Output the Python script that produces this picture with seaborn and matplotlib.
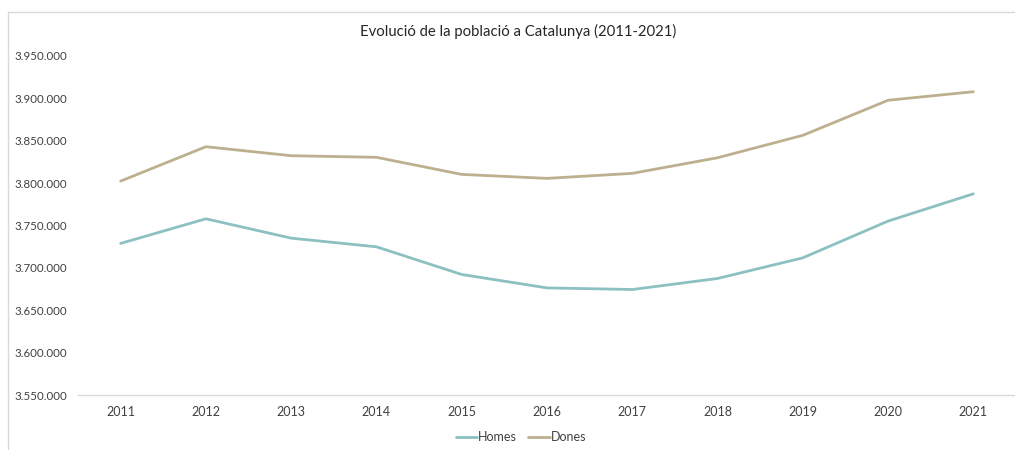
import numpy as np
import pandas as pd
import seaborn as sns
import matplotlib.pyplot as plt
from matplotlib.patches import Rectangle
from matplotlib.ticker import FuncFormatter

sns.set_theme(style="white")
plt.rcParams['font.family'] = ['Lato', 'DejaVu Sans']

years = [2011, 2012, 2013, 2014, 2015, 2016, 2017, 2018, 2019, 2020, 2021]
homes = [3728900, 3757900, 3735100, 3724900, 3692300, 3676500,
         3674600, 3687600, 3711900, 3755200, 3787300]
dones = [3802300, 3842800, 3832200, 3830300, 3810200, 3805500,
         3811400, 3829800, 3856200, 3897500, 3907600]
series = ["Homes", "Dones"]
colors = {"Homes": "#8CC0C1", "Dones": "#BDB08F"}

data = pd.DataFrame({
    "Any": years * 2,
    "Població": homes + dones,
    "Sexe": ["Homes"] * len(years) + ["Dones"] * len(years),
})

fig = plt.figure(figsize=(10.15, 4.5), dpi=100)
ax = fig.add_axes([78 / 1015, 1 - 395.3 / 450, (1016 - 78) / 1015, (395.3 - 55.7) / 450])

# chart border like the spreadsheet frame (right and bottom edges cropped off)
fig.patches.append(Rectangle((8 / 1015, -0.5), 2.0, 1.5 - 12 / 450, transform=fig.transFigure,
                             fill=False, edgecolor="#D9D9D9", linewidth=1.0))

sns.lineplot(data=data, x="Any", y="Població", hue="Sexe", hue_order=series,
             palette=colors, linewidth=2.0, ax=ax, legend=False)

ax.set_xlim(2010.5, 2021.5)
ax.set_ylim(3550000, 3950000)
ax.set_xticks(years)
ax.set_yticks(np.arange(3550000, 3950001, 50000))
ax.yaxis.set_major_formatter(FuncFormatter(lambda v, p: f"{int(v):,}".replace(",", ".")))
ax.set_xlabel("")
ax.set_ylabel("")
ax.tick_params(axis="both", length=0, labelcolor="#404040")
ax.tick_params(axis="x", pad=8, labelsize=9)
ax.tick_params(axis="y", pad=8, labelsize=8.3)
for s in ["top", "right", "left"]:
    ax.spines[s].set_visible(False)
ax.spines["bottom"].set_color("#D9D9D9")
ax.spines["bottom"].set_linewidth(1.0)
ax.grid(False)
ax.patch.set_alpha(0)

fig.text(518 / 1015, 1 - 31 / 450, "Evolució de la població a Catalunya (2011-2021)",
         ha="center", va="center", fontsize=10.7, color="#262626")

handles = [plt.Line2D([], [], color=colors[s], linewidth=2.0) for s in series]
fig.legend(handles, series, loc="center", bbox_to_anchor=(521 / 1015, 1 - 437 / 450),
           ncol=2, frameon=False, fontsize=9, handlelength=1.7, handletextpad=0.1,
           columnspacing=0.9, labelcolor="#404040")

fig.savefig("out.png", dpi=100)
